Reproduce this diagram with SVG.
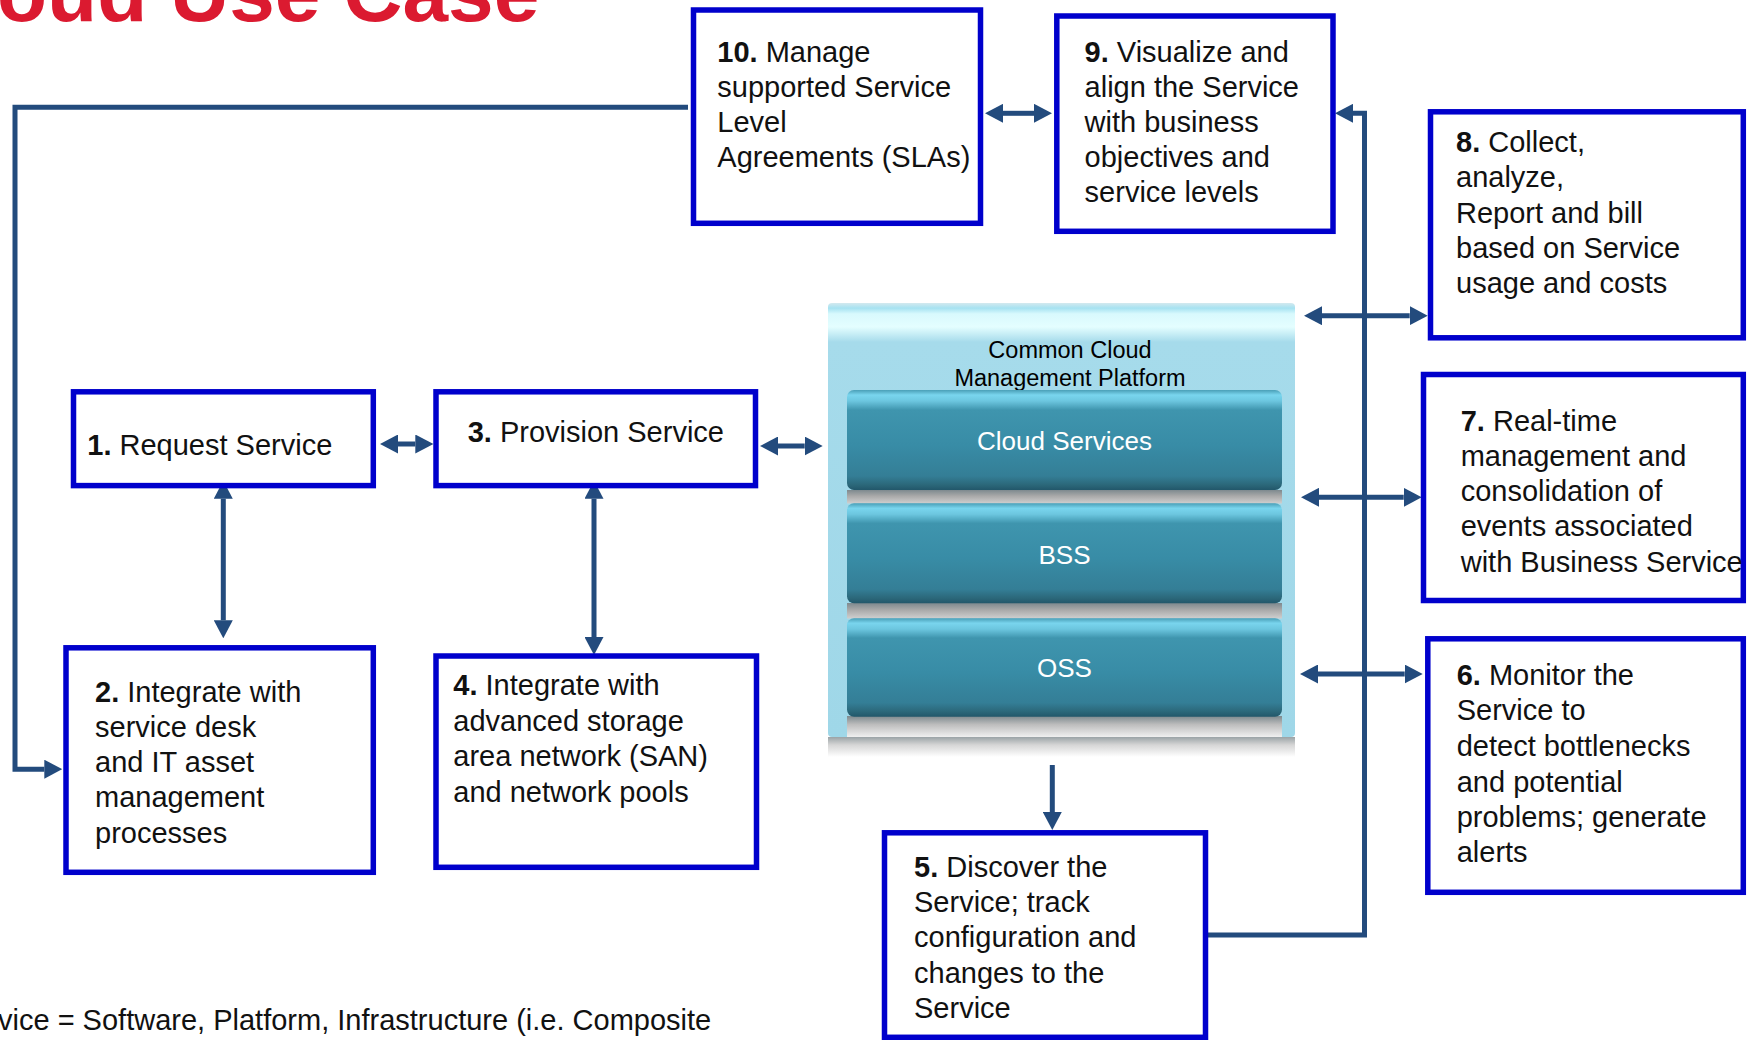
<svg xmlns="http://www.w3.org/2000/svg" width="1747" height="1040" viewBox="0 0 1747 1040">
  <defs>
    <style>
      .t { font-family: "Liberation Sans", Arial, sans-serif; font-size: 29px; fill: #111; }
      .b { font-weight: bold; }
      .box { fill: #fff; stroke: #0000cc; stroke-width: 5.5; }
      .conn { fill: none; stroke: #234b7d; stroke-width: 5; }
      .bar { fill: url(#barGrad); }
      .barTxt { font-family: "Liberation Sans", Arial, sans-serif; font-size: 26px; fill: #fff; text-anchor: middle; }
    </style>
    <marker id="ah" viewBox="0 0 18 19" refX="0" refY="9.5" markerWidth="18" markerHeight="19" markerUnits="userSpaceOnUse" orient="auto-start-reverse">
      <path d="M0,0 L18,9.5 L0,19 z" fill="#234b7d"/>
    </marker>
    <linearGradient id="panelGrad" x1="0" y1="0" x2="0" y2="1">
      <stop offset="0" stop-color="#d3e9ef"/>
      <stop offset="0.012" stop-color="#a6e2f1"/>
      <stop offset="0.025" stop-color="#d8f9fd"/>
      <stop offset="0.055" stop-color="#e4feff"/>
      <stop offset="0.09" stop-color="#a6dbeb"/>
      <stop offset="1" stop-color="#9fd7e8"/>
    </linearGradient>
    <linearGradient id="barGrad" x1="0" y1="0" x2="0" y2="1">
      <stop offset="0" stop-color="#4a9fb7"/>
      <stop offset="0.05" stop-color="#79d5ee"/>
      <stop offset="0.11" stop-color="#6cc6df"/>
      <stop offset="0.2" stop-color="#3f95ae"/>
      <stop offset="0.55" stop-color="#388ca6"/>
      <stop offset="0.86" stop-color="#347e96"/>
      <stop offset="0.95" stop-color="#2b6779"/>
      <stop offset="1" stop-color="#22576a"/>
    </linearGradient>
    <linearGradient id="gapGrad" x1="0" y1="0" x2="0" y2="1">
      <stop offset="0" stop-color="#7d898e"/>
      <stop offset="0.45" stop-color="#a9a9a9"/>
      <stop offset="1" stop-color="#cfcfcf"/>
    </linearGradient>
    <linearGradient id="baseGrad" x1="0" y1="0" x2="0" y2="1">
      <stop offset="0" stop-color="#7d898e"/>
      <stop offset="0.4" stop-color="#bcbcbc"/>
      <stop offset="1" stop-color="#f0f0f0"/>
    </linearGradient>
    <linearGradient id="dropGrad" x1="0" y1="0" x2="0" y2="1">
      <stop offset="0" stop-color="#9aa3a6"/>
      <stop offset="0.4" stop-color="#d6d6d6"/>
      <stop offset="1" stop-color="#ffffff"/>
    </linearGradient>
  </defs>

  <rect width="1747" height="1040" fill="#fff"/>

  <!-- heading, clipped by the top edge -->
  <text x="-3" y="20.5" font-family="Liberation Sans, Arial, sans-serif" font-size="82" font-weight="bold" fill="#db1a30">oud Use Case</text>

  <!-- central platform -->
  <g id="platform">
    <rect x="828" y="737" width="467" height="20" fill="url(#dropGrad)"/>
    <rect x="828" y="303" width="467" height="434" rx="4" fill="url(#panelGrad)"/>
    <text x="1070" y="358.3" font-family="Liberation Sans, Arial, sans-serif" font-size="23.5" fill="#000" text-anchor="middle">Common Cloud</text>
    <text x="1070" y="386" font-family="Liberation Sans, Arial, sans-serif" font-size="23.5" fill="#000" text-anchor="middle">Management Platform</text>
    <rect x="847" y="490" width="435" height="13.5" fill="url(#gapGrad)"/>
    <rect x="847" y="603" width="435" height="15.5" fill="url(#gapGrad)"/>
    <rect x="847" y="716" width="435" height="21" fill="url(#baseGrad)"/>
    <g id="cloud-services">
      <rect class="bar" x="847" y="390" width="435" height="100" rx="7"/>
      <text class="barTxt" x="1064.5" y="450">Cloud Services</text>
    </g>
    <g id="bss">
      <rect class="bar" x="847" y="503.3" width="435" height="100" rx="7"/>
      <text class="barTxt" x="1064.5" y="564">BSS</text>
    </g>
    <g id="oss">
      <rect class="bar" x="847" y="618.3" width="435" height="98.4" rx="7"/>
      <text class="barTxt" x="1064.5" y="676.7">OSS</text>
    </g>
  </g>

  <!-- connectors -->
  <g id="connectors">
    <path class="conn" d="M688,107.3 H15 V769.2 H44.3" marker-end="url(#ah)"/>
    <path class="conn" d="M1208,935 H1364.5 V113.3 H1353" marker-end="url(#ah)"/>
    <line class="conn" x1="1003" y1="113.3" x2="1034" y2="113.3" marker-start="url(#ah)" marker-end="url(#ah)"/>
    <line class="conn" x1="398" y1="444" x2="415.3" y2="444" marker-start="url(#ah)" marker-end="url(#ah)"/>
    <line class="conn" x1="778" y1="446" x2="804.7" y2="446" marker-start="url(#ah)" marker-end="url(#ah)"/>
    <line class="conn" x1="223.3" y1="498.7" x2="223.3" y2="620.3" marker-start="url(#ah)" marker-end="url(#ah)"/>
    <line class="conn" x1="594" y1="498.7" x2="594" y2="637" marker-start="url(#ah)" marker-end="url(#ah)"/>
    <line class="conn" x1="1322" y1="315.7" x2="1409.7" y2="315.7" marker-start="url(#ah)" marker-end="url(#ah)"/>
    <line class="conn" x1="1319" y1="497.3" x2="1403.7" y2="497.3" marker-start="url(#ah)" marker-end="url(#ah)"/>
    <line class="conn" x1="1318" y1="674" x2="1404.7" y2="674" marker-start="url(#ah)" marker-end="url(#ah)"/>
    <line class="conn" x1="1052.3" y1="765" x2="1052.3" y2="812" marker-end="url(#ah)"/>
  </g>

  <g id="n1">
    <rect class="box" x="73.5" y="391.8" width="299.8" height="93.8"/>
    <text class="t" x="87.3" y="455"><tspan class="b">1.</tspan> Request Service</text>
  </g>

  <g id="n2">
    <rect class="box" x="66" y="647.8" width="307.3" height="224.5"/>
    <text class="t" x="95" y="701.7"><tspan class="b">2.</tspan> Integrate with<tspan x="95" y="736.7">service desk</tspan><tspan x="95" y="771.7">and IT asset</tspan><tspan x="95" y="807.3">management</tspan><tspan x="95" y="842.7">processes</tspan></text>
  </g>

  <g id="n3">
    <rect class="box" x="436" y="391.8" width="319.5" height="93.8"/>
    <text class="t" x="467.7" y="441.7"><tspan class="b">3.</tspan> Provision Service</text>
  </g>

  <g id="n4">
    <rect class="box" x="436" y="656" width="320.5" height="211.3"/>
    <text class="t" x="453.3" y="695"><tspan class="b">4.</tspan> Integrate with<tspan x="453.3" y="730.7">advanced storage</tspan><tspan x="453.3" y="766">area network (SAN)</tspan><tspan x="453.3" y="801.7">and network pools</tspan></text>
  </g>

  <g id="n5">
    <rect class="box" x="884.5" y="832.8" width="321" height="204.5"/>
    <text class="t" x="914" y="876.7"><tspan class="b">5.</tspan> Discover the<tspan x="914" y="911.7">Service; track</tspan><tspan x="914" y="947.3">configuration and</tspan><tspan x="914" y="982.7">changes to the</tspan><tspan x="914" y="1018.3">Service</tspan></text>
  </g>

  <g id="n6">
    <rect class="box" x="1427.8" y="638.8" width="315.5" height="253.5"/>
    <text class="t" x="1456.7" y="685"><tspan class="b">6.</tspan> Monitor the<tspan x="1456.7" y="720">Service to</tspan><tspan x="1456.7" y="756">detect bottlenecks</tspan><tspan x="1456.7" y="791.7">and potential</tspan><tspan x="1456.7" y="826.7">problems; generate</tspan><tspan x="1456.7" y="862.3">alerts</tspan></text>
  </g>

  <g id="n7">
    <rect class="box" x="1423.5" y="374.5" width="319.8" height="226"/>
    <text class="t" x="1460.7" y="430.7"><tspan class="b">7.</tspan> Real-time<tspan x="1460.7" y="466">management and</tspan><tspan x="1460.7" y="500.7">consolidation of</tspan><tspan x="1460.7" y="536">events associated</tspan><tspan x="1460.7" y="571.7">with Business Service</tspan></text>
  </g>

  <g id="n8">
    <rect class="box" x="1430.5" y="111.8" width="312.8" height="226"/>
    <text class="t" x="1456" y="151.7"><tspan class="b">8.</tspan> Collect,<tspan x="1456" y="187.3">analyze,</tspan><tspan x="1456" y="222.7">Report and bill</tspan><tspan x="1456" y="258.3">based on Service</tspan><tspan x="1456" y="293.3">usage and costs</tspan></text>
  </g>

  <g id="n9">
    <rect class="box" x="1056.8" y="16" width="276.2" height="215.3"/>
    <text class="t" x="1084.6" y="61.7"><tspan class="b">9.</tspan> Visualize and<tspan x="1084.6" y="96.7">align the Service</tspan><tspan x="1084.6" y="131.7">with business</tspan><tspan x="1084.6" y="166.7">objectives and</tspan><tspan x="1084.6" y="201.7">service levels</tspan></text>
  </g>

  <g id="n10">
    <rect class="box" x="693.5" y="10" width="287" height="213.3"/>
    <text class="t" x="717.3" y="62"><tspan class="b">10.</tspan> Manage<tspan x="717.3" y="97">supported Service</tspan><tspan x="717.3" y="132">Level</tspan><tspan x="717.3" y="167">Agreements (SLAs)</tspan></text>
  </g>

  <!-- footnote, clipped by the left edge -->
  <text class="t" x="-2" y="1030">vice = Software, Platform, Infrastructure (i.e. Composite</text>
</svg>
